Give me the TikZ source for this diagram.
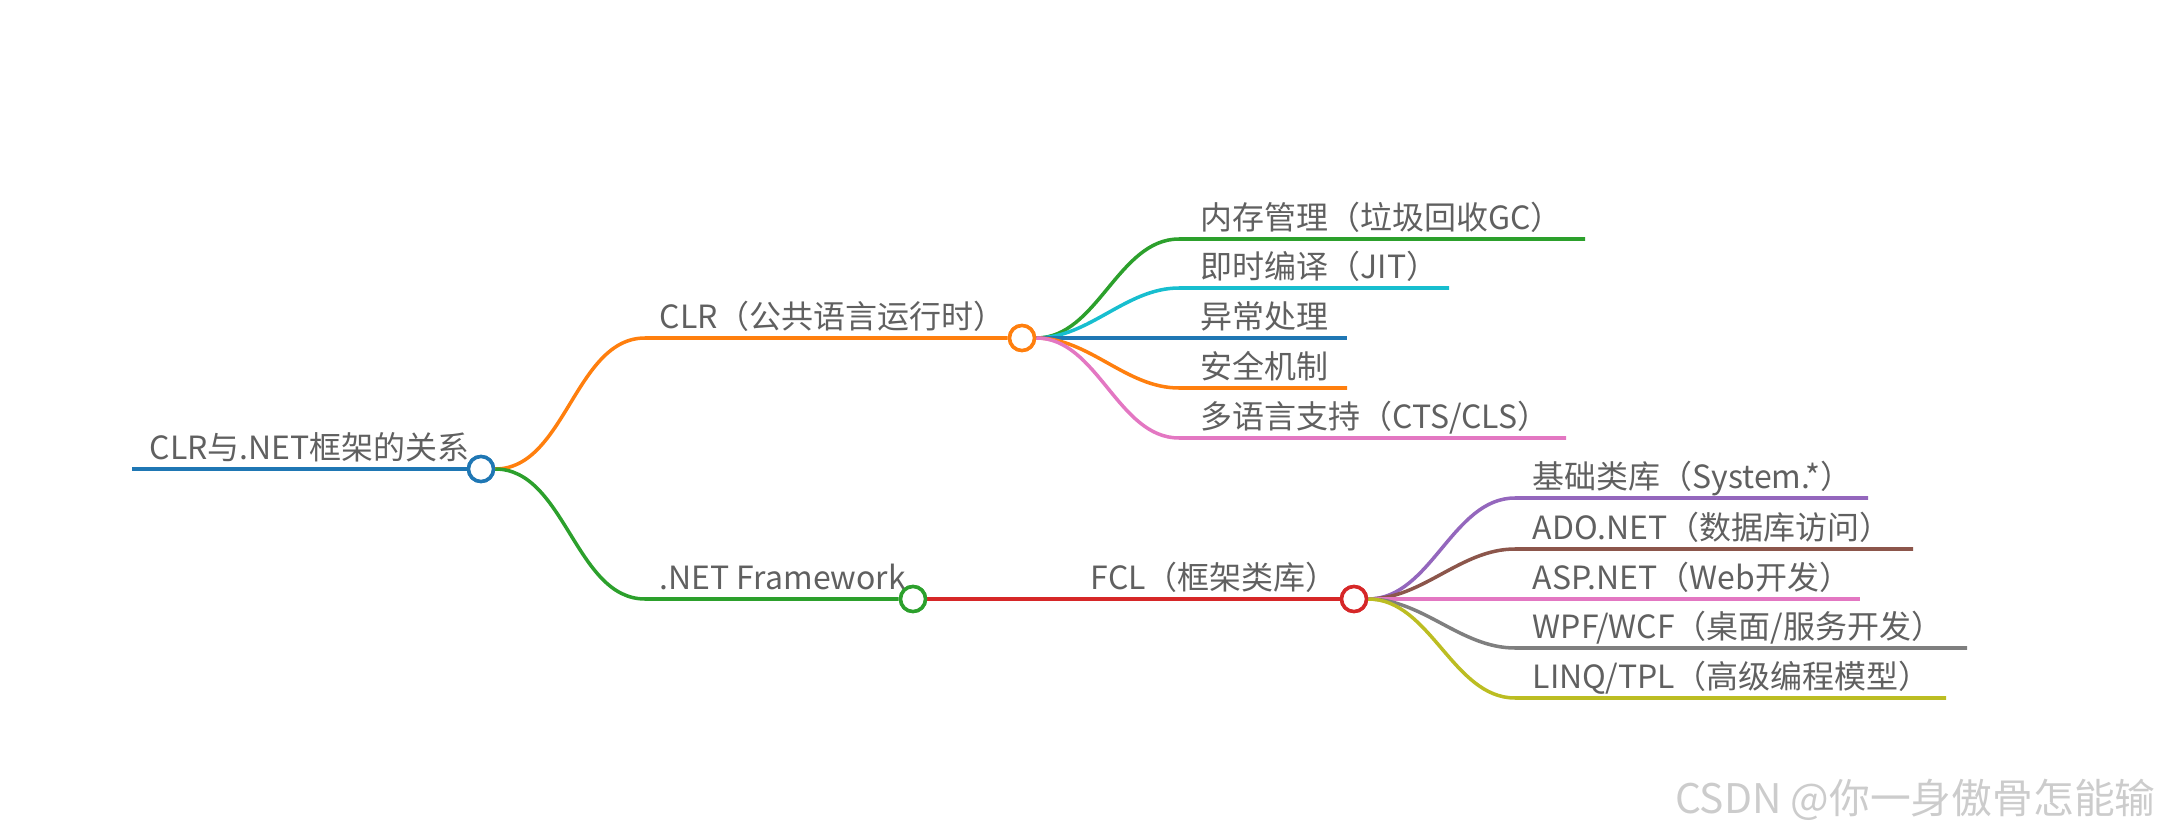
\documentclass[tikz,border=0pt]{standalone}
\usepackage{fontspec}
\setmainfont{Noto Sans CJK SC}
\usepackage{xcolor}
\usepackage{tikz}
\usetikzlibrary{positioning, calc}
\definecolor{cBlue}{HTML}{1F77B4}
\definecolor{cOrange}{HTML}{FF7F0E}
\definecolor{cGreen}{HTML}{2CA02C}
\definecolor{cRed}{HTML}{D62728}
\definecolor{cPurple}{HTML}{9467BD}
\definecolor{cBrown}{HTML}{8C564B}
\definecolor{cPink}{HTML}{E377C2}
\definecolor{cGray}{HTML}{7F7F7F}
\definecolor{cOlive}{HTML}{BCBD22}
\definecolor{cCyan}{HTML}{17BECF}
\definecolor{txtgray}{HTML}{606060}
\tikzset{
  topic/.style ={font=\fontsize{9.1}{11}\selectfont, text=txtgray, inner sep=0pt,
                 text height=.85em, text depth=.2em},
  knot/.style  ={circle, draw, fill=white, line width=1pt, minimum size=2.5mm, inner sep=0pt},
  branch/.style={line width=1pt},
  trunk/.style ={line width=1.4pt},
  curve/.style ={out=0, in=180, looseness=.9},
  wmark/.style ={font=\fontsize{11.6}{13}\selectfont, text=black!20},
}

\begin{document}
\begin{tikzpicture}
  \useasboundingbox (0,0) rectangle (21.75,-8.37);
  % root
  \coordinate (root-s) at (1.32,-4.69);
  \node[knot, draw=cBlue] (root) at (4.81,-4.69) {};
  \node[topic, above right=.02 and .17 of root-s] {CLR与.NET框架的关系};
  % first level
  \coordinate (clr-s) at (6.45,-3.38);
  \node[knot, draw=cOrange] (clr) at (10.22,-3.38) {};
  \node[topic, above right=.02 and .14 of clr-s] {CLR（公共语言运行时）};
  \coordinate (net-s) at (6.45,-5.99);
  \node[knot, draw=cGreen] (net) at (9.13,-5.99) {};
  \node[topic, above right=.02 and .14 of net-s] {.NET Framework};
  % second level
  \coordinate (fcl-s) at (10.75,-5.99);
  \node[knot, draw=cRed] (fcl) at (13.54,-5.99) {};
  \node[topic, above right=.02 and .15 of fcl-s] {FCL（框架类库）};
  % CLR leaves
  \coordinate (gc-s)   at (11.79,-2.39); \coordinate (gc)   at (15.85,-2.39);
  \coordinate (jit-s)  at (11.79,-2.88); \coordinate (jit)  at (14.49,-2.88);
  \coordinate (exc-s)  at (11.79,-3.38); \coordinate (exc)  at (13.47,-3.38);
  \coordinate (sec-s)  at (11.79,-3.88); \coordinate (sec)  at (13.47,-3.88);
  \coordinate (cts-s)  at (11.79,-4.38); \coordinate (cts)  at (15.66,-4.38);
  \node[topic, above right=.02 and .21 of gc-s]  {内存管理（垃圾回收GC）};
  \node[topic, above right=.02 and .21 of jit-s] {即时编译（JIT）};
  \node[topic, above right=.02 and .21 of exc-s] {异常处理};
  \node[topic, above right=.02 and .21 of sec-s] {安全机制};
  \node[topic, above right=.02 and .21 of cts-s] {多语言支持（CTS/CLS）};
  % FCL leaves
  \coordinate (sys-s)  at (15.15,-4.98); \coordinate (sys)  at (18.68,-4.98);
  \coordinate (ado-s)  at (15.15,-5.49); \coordinate (ado)  at (19.13,-5.49);
  \coordinate (asp-s)  at (15.15,-5.99); \coordinate (asp)  at (18.60,-5.99);
  \coordinate (wpf-s)  at (15.15,-6.48); \coordinate (wpf)  at (19.67,-6.48);
  \coordinate (linq-s) at (15.15,-6.98); \coordinate (linq) at (19.46,-6.98);
  \node[topic, above right=.02 and .17 of sys-s]  {基础类库（System.*）};
  \node[topic, above right=.02 and .17 of ado-s]  {ADO.NET（数据库访问）};
  \node[topic, above right=.02 and .17 of asp-s]  {ASP.NET（Web开发）};
  \node[topic, above right=.02 and .17 of wpf-s]  {WPF/WCF（桌面/服务开发）};
  \node[topic, above right=.02 and .17 of linq-s] {LINQ/TPL（高级编程模型）};
  % connectors
  \draw[trunk, cBlue]    (root-s) -- (root);
  \draw[branch, cOrange] (root) to[curve] (clr-s) -- (clr);
  \draw[branch, cGreen]  (root) to[curve] (net-s) -- (net);
  \draw[branch, cRed]    (net) -- (fcl-s) -- (fcl);
  \draw[branch, cGreen]  (clr) to[curve] (gc-s) -- (gc);
  \draw[branch, cCyan]   (clr) to[curve] (jit-s) -- (jit);
  \draw[branch, cBlue]   (clr) -- (exc-s) -- (exc);
  \draw[branch, cOrange] (clr) to[curve] (sec-s) -- (sec);
  \draw[branch, cPink]   (clr) to[curve] (cts-s) -- (cts);
  \draw[branch, cPurple] (fcl) to[curve] (sys-s) -- (sys);
  \draw[branch, cBrown]  (fcl) to[curve] (ado-s) -- (ado);
  \draw[branch, cPink]   (fcl) -- (asp-s) -- (asp);
  \draw[branch, cGray]   (fcl) to[curve] (wpf-s) -- (wpf);
  \draw[branch, cOlive]  (fcl) to[curve] (linq-s) -- (linq);
  % redraw knots on top
  \node[knot, draw=cBlue]   at (root) {};
  \node[knot, draw=cOrange] at (clr) {};
  \node[knot, draw=cGreen]  at (net) {};
  \node[knot, draw=cRed]    at (fcl) {};
  % watermark
  \node[wmark, anchor=east] (wm) at (21.68,-8.00) {CSDN @你一身傲骨怎能输};
\end{tikzpicture}
\end{document}
